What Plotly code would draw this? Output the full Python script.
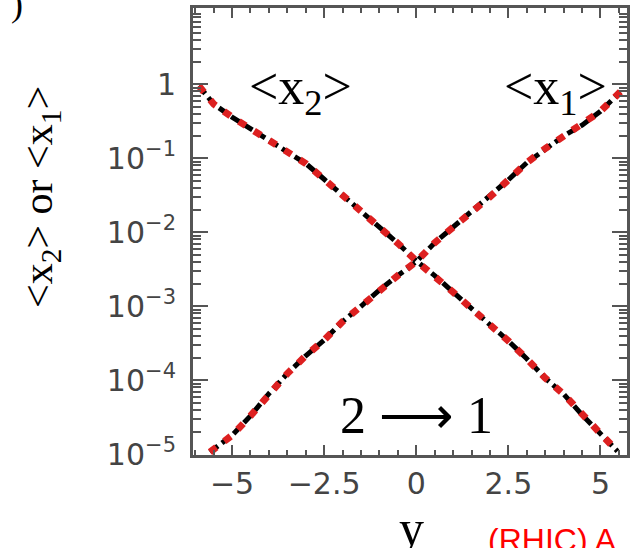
import plotly.graph_objects as go

# ---- data ----
rap_x2 = [-5.9, -5.5, -5.0, -4.5, -4.0, -3.5, -3.0, -2.5, -2.0, -1.5, -1.0, -0.5,
          0.0, 0.5, 1.0, 1.5, 2.0, 2.5, 3.0, 3.5, 4.0, 4.5, 5.0, 5.46]
mean_x2 = [0.95, 0.54, 0.36, 0.25, 0.18, 0.126, 0.085, 0.052, 0.032, 0.0195, 0.012, 0.0071,
           0.0041, 0.0026, 0.00155, 0.00093, 0.00058, 0.00034, 0.000195, 0.000107,
           6.5e-5, 3.4e-5, 1.9e-5, 1.1e-5]

rap_x1 = [-5.6, -5.0, -4.5, -4.0, -3.5, -3.0, -2.5, -2.0, -1.5, -1.0, -0.5, 0.0,
          0.5, 1.0, 1.5, 2.0, 2.5, 3.0, 3.5, 4.0, 4.5, 5.0, 5.54]
mean_x1 = [1.07e-5, 1.8e-5, 3.3e-5, 6.6e-5, 1.23e-4, 2.14e-4, 3.5e-4, 6.2e-4, 1.0e-3,
           1.66e-3, 2.6e-3, 4.0e-3, 7.2e-3, 0.0117, 0.0186, 0.030, 0.051, 0.087,
           0.135, 0.20, 0.28, 0.43, 0.79]

x_tickvals = [-5, -2.5, 0, 2.5, 5]
x_ticktext = ["\u22125", "\u22122.5", "0", "2.5", "5"]
x_minor = [v * 0.5 for v in range(-12, 12)]
y_tickvals = [1e-5, 1e-4, 1e-3, 1e-2, 1e-1, 1]
y_ticktext = ["10<sup>\u22125</sup>", "10<sup>\u22124</sup>", "10<sup>\u22123</sup>",
              "10<sup>\u22122</sup>", "10<sup>\u22121</sup>", "1"]
y_minor = [k * 10.0 ** e for e in range(-5, 1) for k in range(2, 10)]

# ---- layout geometry (pixels) ----
W, H = 633, 548
L, R, T, B = 193, 630, 8, 455


def px(xp):
    return (xp - L) / (R - L)


def py(yp):
    return (B - yp) / (B - T)


AX = "#555555"
SERIF = "Liberation Serif, Times New Roman, serif"
SANS = "DejaVu Sans, sans-serif"

fig = go.Figure()
for xs, ys in ((rap_x2, mean_x2), (rap_x1, mean_x1)):
    fig.add_trace(go.Scatter(x=xs, y=ys, mode="lines", showlegend=False,
                             line=dict(color="black", width=5, dash="10px,5px")))
for xs, ys in ((rap_x2, mean_x2), (rap_x1, mean_x1)):
    fig.add_trace(go.Scatter(x=xs, y=ys, mode="lines", showlegend=False,
                             line=dict(color="#dd2020", width=7, dash="8px,10px")))

axis_common = dict(showline=True, linewidth=3, linecolor=AX, mirror="allticks",
                   ticks="inside", tickcolor=AX, tickwidth=2, showgrid=False,
                   zeroline=False, tickfont=dict(family=SANS, size=30, color="#444444"))

fig.update_xaxes(range=[-6.06, 5.72], tickvals=x_tickvals, ticktext=x_ticktext,
                 ticklen=10,
                 minor=dict(tickvals=x_minor, ticks="inside", ticklen=5, tickwidth=1.5,
                            tickcolor=AX, showgrid=False),
                 **axis_common)
fig.update_yaxes(type="log", range=[-5.01, 1.03], tickvals=y_tickvals, ticktext=y_ticktext,
                 ticklen=15, ticklabelstandoff=8,
                 minor=dict(tickvals=y_minor, ticks="inside", ticklen=8, tickwidth=1.5,
                            tickcolor=AX, showgrid=False),
                 **axis_common)

annos = [
    dict(text="&lt;x<sub>2</sub>&gt;", x=px(301), y=py(90), size=52, font=SERIF, color="black"),
    dict(text="&lt;x<sub>1</sub>&gt;", x=px(558), y=py(90), size=52, font=SERIF, color="black"),
    dict(text="2 \u27f6 1", x=px(418), y=py(415), size=52, font=SERIF, color="black"),
    dict(text="y", x=px(413), y=py(528), size=50, font=SERIF, color="black"),
]
for a in annos:
    fig.add_annotation(text=a["text"], x=a["x"], y=a["y"], xref="paper", yref="paper",
                       showarrow=False, xanchor="center", yanchor="middle",
                       font=dict(family=a["font"], size=a["size"], color=a["color"]))

fig.add_annotation(text="&lt;x<sub>2</sub>&gt; or &lt;x<sub>1</sub>&gt;", textangle=-90,
                   x=px(40), y=py(197), xref="paper", yref="paper", showarrow=False,
                   xanchor="center", yanchor="middle",
                   font=dict(family=SERIF, size=42, color="black"))
fig.add_annotation(text="(RHIC) A", x=px(488), y=py(540), xref="paper", yref="paper",
                   showarrow=False, xanchor="left", yanchor="middle",
                   font=dict(family="Liberation Sans, Arial, sans-serif", size=32, color="red"))
fig.add_annotation(text=")", x=px(16), y=py(4), xref="paper", yref="paper",
                   showarrow=False, xanchor="center", yanchor="middle",
                   font=dict(family=SERIF, size=36, color="black"))

fig.update_layout(width=W, height=H, margin=dict(l=L, r=W - R, t=T, b=H - B),
                  paper_bgcolor="white", plot_bgcolor="white")

fig.write_html("out.html")
